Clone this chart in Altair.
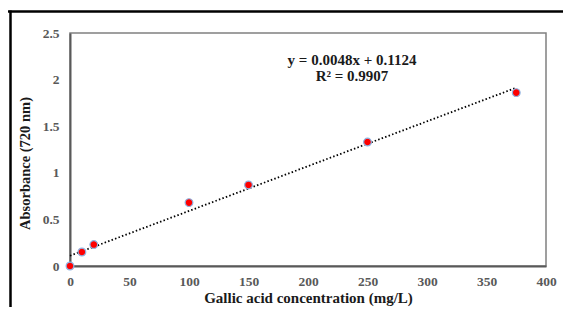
import altair as alt
import pandas as pd

# data
conc = [0, 10, 20, 100, 150, 250, 375]
absorb = [0.0, 0.15, 0.23, 0.68, 0.87, 1.33, 1.86]
x_ticks = [0, 50, 100, 150, 200, 250, 300, 350, 400]
y_ticks = [0, 0.5, 1, 1.5, 2, 2.5]
eq_lines = ["y = 0.0048x + 0.1124", "R² = 0.9907"]

df = pd.DataFrame({"x": conc, "y": absorb})

W, H = 476, 233
FONT = "Liberation Serif"

xs = alt.Scale(domain=[0, 400], nice=False, zero=True)
ys = alt.Scale(domain=[0, 2.5], nice=False, zero=True)

xax = alt.Axis(values=x_ticks, title="Gallic acid concentration (mg/L)", grid=False,
               ticks=False, labelPadding=8, titlePadding=3, labelFlush=False,
               domainColor="#595959", domainWidth=2,
               labelFont=FONT, labelFontSize=13.5, labelFontWeight="bold", labelColor="#595959",
               titleFont=FONT, titleFontSize=15, titleFontWeight="bold", titleColor="#1a1a1a")
yax = alt.Axis(values=y_ticks, format="~g", title="Absorbance (720 nm)", grid=False,
               ticks=False, labelPadding=11, titleX=-38, titleY=130, labelFlush=False,
               domainColor="#595959", domainWidth=2,
               labelFont=FONT, labelFontSize=13.5, labelFontWeight="bold", labelColor="#595959",
               titleFont=FONT, titleFontSize=14.5, titleFontWeight="bold", titleColor="#1a1a1a")

base = alt.Chart(df)

trend = base.transform_regression("x", "y", extent=[0, 375]).mark_line(
    color="black", strokeDash=[1.5, 2.2], strokeWidth=1.8
).encode(x=alt.X("x:Q", scale=xs, axis=xax), y=alt.Y("y:Q", scale=ys, axis=yax))

pts = base.mark_point(filled=True, shape="circle", size=60, fill="#ff0000",
                      stroke="#8fb4e3", strokeWidth=1.2, opacity=1).encode(
    x=alt.X("x:Q", scale=xs), y=alt.Y("y:Q", scale=ys))

eq1 = alt.Chart(pd.DataFrame({"t": [eq_lines[0]]})).mark_text(
    font=FONT, fontSize=15, fontWeight="bold", color="#1a1a1a").encode(
    text="t:N", x=alt.value(282), y=alt.value(27))
eq2 = alt.Chart(pd.DataFrame({"t": [eq_lines[1]]})).mark_text(
    font=FONT, fontSize=15, fontWeight="bold", color="#1a1a1a").encode(
    text="t:N", x=alt.value(282), y=alt.value(43))

frame_top = alt.Chart(pd.DataFrame({"a": [0]})).mark_rule(color="black", strokeWidth=2.5).encode(
    x=alt.value(-62), x2=alt.value(W + 30), y=alt.value(-21.5))
frame_left = alt.Chart(pd.DataFrame({"a": [0]})).mark_rule(color="black", strokeWidth=2.5).encode(
    x=alt.value(-59.5), y=alt.value(-22.5), y2=alt.value(H + 60))

chart = alt.layer(trend, pts, eq1, eq2, frame_top, frame_left).properties(
    width=W, height=H,
    autosize=alt.AutoSizeParams(type="none"),
    padding={"left": 62, "top": 25, "right": 17, "bottom": 41},
).configure_view(stroke="#808080", strokeWidth=1.5)

chart.save("out.html", embed_options={"renderer": "svg", "actions": False})
